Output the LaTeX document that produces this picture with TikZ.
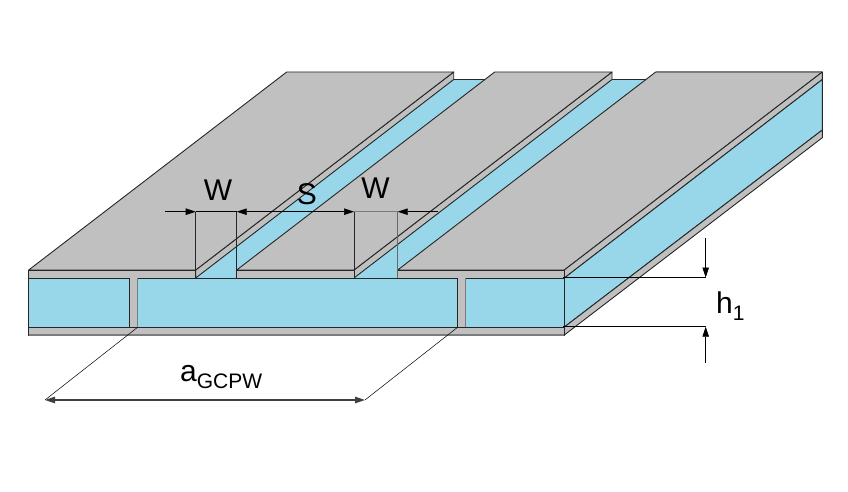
\documentclass[tikz,border=0pt]{standalone}
\usepackage{fontspec}
\setmainfont{Liberation Sans}
\usepackage{tikz}
\usetikzlibrary{arrows.meta}

\definecolor{metal}{HTML}{C0C0C0}
\definecolor{subst}{HTML}{98D7EA}
\definecolor{edgeline}{HTML}{262626}
\definecolor{softline}{HTML}{7C7C7C}

\begin{document}
\begin{tikzpicture}[x=1pt, y=-1pt,
    plate/.style={fill=metal, draw=edgeline, line width=0.9pt, line join=round},
    diel/.style={fill=subst, draw=edgeline, line width=0.9pt, line join=round},
    dimline/.style={draw=black, line width=0.7pt},
    dimarrow/.style={dimline, -{Triangle[length=10pt, width=6.5pt]}},
    dimarrows/.style={dimline, {Triangle[length=10pt, width=6.5pt]}-{Triangle[length=10pt, width=6.5pt]}},
    lbl/.style={inner sep=0pt, font=\fontsize{30}{32}\selectfont}]
    \useasboundingbox (0,0) rectangle (848,492);

    % front corners
    \coordinate (fl) at (28.7,270);
    \coordinate (fr) at (564.3,270);
    % slot edges, front
    \coordinate (s1) at (195.7,270);
    \coordinate (s2) at (236.7,270);
    \coordinate (s3) at (354,270);
    \coordinate (s4) at (397.7,270);
    % back ends of the same edges
    \coordinate (bl) at (286.7,72);
    \coordinate (br) at (822.3,72);
    \coordinate (b1) at (453.7,72);
    \coordinate (b2) at (494.7,72);
    \coordinate (b3) at (612,72);
    \coordinate (b4) at (655.7,72);

    % substrate seen through the slots
    \fill[subst] (28.7,278) -- (564.3,278) -- (822.3,79.5) -- (286.7,79.5) -- cycle;
    \draw[plate, fill=none] (453.7,79.5) -- (490,79.5);
    \draw[plate, fill=none] (612,79.5) -- (650,79.5);

    % side walls of the metal along the slots
    \draw[plate] (s1) -- (b1) -- (453.7,79.5) -- (195.7,278) -- cycle;
    \draw[plate] (s3) -- (b3) -- (612,79.5) -- (354,278) -- cycle;

    % metal on top
    \draw[plate] (fl) -- (bl) -- (b1) -- (s1) -- cycle;
    \draw[plate] (s2) -- (b2) -- (b3) -- (s3) -- cycle;
    \draw[plate] (s4) -- (b4) -- (br) -- (fr) -- cycle;
    \draw[softline, line width=1.2pt] (b4) -- (br);

    % right side of the board
    \draw[plate] (fr) -- (br) -- (822.3,79.5) -- (564.3,278) -- cycle;
    \draw[diel] (564.3,278) -- (822.3,79.5) -- (822.3,130) -- (564.3,327) -- cycle;
    \draw[plate] (564.3,327) -- (822.3,130) -- (822.3,137.7) -- (564.3,335) -- cycle;

    % front face
    \draw[plate] (fl) rectangle (195.7,278);
    \draw[plate] (s2) rectangle (354,278);
    \draw[plate] (s4) rectangle (564.3,278);
    \draw[diel] (28.7,278) rectangle (564.3,327);
    \draw[plate] (28.7,327) rectangle (564.3,335);
    \draw[softline, line width=1.4pt] (28.7,335) -- (564.3,335);

    % vias
    \fill[metal] (129.3,278) rectangle (137.3,327);
    \fill[metal] (457.3,278) rectangle (465,327);
    \draw[edgeline, line width=0.9pt] (129.3,278) -- (129.3,327);
    \draw[softline, line width=1pt] (137.3,278) -- (137.3,327);
    \draw[edgeline, line width=0.9pt] (457.3,278) -- (457.3,327);
    \draw[softline, line width=1pt] (465,278) -- (465,327);

    % W S W
    \coordinate (w1a) at (195.7,211.7);
    \coordinate (w1b) at (236.7,211.7);
    \coordinate (w2a) at (354,211.7);
    \coordinate (w2b) at (397.7,211.7);
    \draw[edgeline, line width=0.9pt] (w1a) -- (195.7,278);
    \draw[edgeline, line width=0.9pt] (w1b) -- (236.7,278);
    \draw[edgeline, line width=0.9pt] (w2a) -- (354,278);
    \draw[edgeline!70, line width=0.9pt] (w2b) -- (397.7,278);
    \draw[dimline] (w1a) -- (w1b);
    \draw[softline, line width=0.9pt] (w2a) -- (w2b);
    \draw[dimarrow] (165,211.7) -- (w1a);
    \draw[dimarrows] (w1b) -- (w2a);
    \draw[dimarrow] (438,211.7) -- (w2b);
    \node[lbl] (w1) at (218,190.5) {W};
    \node[lbl] (sgap) at (307,194) {S};
    \node[lbl] (w2) at (375.5,188) {W};

    % h1
    \coordinate (h1a) at (705.7,277.5);
    \coordinate (h1b) at (705.7,326.7);
    \draw[dimline] (563,277.5) -- (h1a);
    \draw[dimline] (563,326.7) -- (h1b);
    \draw[dimarrow] (705.7,238) -- (h1a);
    \draw[dimarrow] (705.7,363) -- (h1b);
    \node[lbl, anchor=base west] (hlabel) at (716,313) {h\raisebox{-7pt}{\fontsize{21}{21}\selectfont 1}};

    % a
    \coordinate (a1) at (45,400);
    \coordinate (a2) at (365,400);
    \draw[dimline, line width=0.5pt] (137.3,327.5) -- (a1);
    \draw[dimline, line width=0.5pt] (457.3,327.5) -- (a2);
    \draw[dimarrows, draw=black!75, line width=1.2pt] (a1) -- (a2);
    \node[lbl, anchor=base west] (alabel) at (180,381) {a\raisebox{-7pt}{\fontsize{21}{21}\selectfont GCPW}};
\end{tikzpicture}
\end{document}
